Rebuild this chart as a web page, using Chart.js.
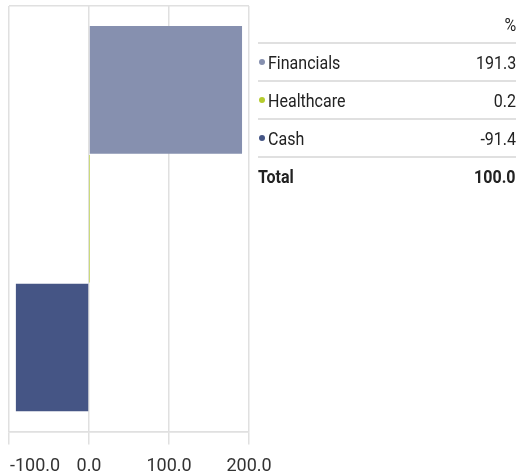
<!DOCTYPE html>
<html>
<head>
<meta charset="utf-8">
<script src="https://cdn.jsdelivr.net/npm/chart.js@4/dist/chart.umd.min.js"></script>
<style>
    body { margin: 0; background: #fff; font-family: Roboto, sans-serif; color: #222; }
    #wrap { position: absolute; left: 0; top: 0; width: 280px; height: 475px; }
    #tbl { position: absolute; left: 258px; top: 6px; width: 258px; border-collapse: collapse; font-size: 18px; }
    #tbl td { height: 36px; padding: 0; border-bottom: 2px solid #e0e0e0; vertical-align: middle; white-space: nowrap; }
    #tbl tr:last-child td { border-bottom: none; font-weight: bold; }
    #tbl td.v { text-align: right; }
    .t { display: inline-block; transform: scaleX(0.89); transform-origin: left center; }
    td.v .t { transform-origin: right center; }
    .dot { display: inline-block; width: 6px; height: 6px; border-radius: 50%; margin: 0 3px 3px 1px; vertical-align: middle; }
</style>
</head>
<body>
<div id="wrap"><canvas id="allocChart"></canvas></div>
<table id="tbl"></table>
<script>
const sectors = ["Financials", "Healthcare", "Cash"];
const weights = [191.3, 0.2, -91.4];
const sectorColors = ["#8690AF", "#B5CC2E", "#455585"];
const totalWeight = "100.0";
const xTicks = [-100, 0, 100, 200];

// table on the right
const tbl = document.getElementById("tbl");
const cell = (txt, cls) => '<td' + (cls ? ' class="' + cls + '"' : '') + '><span class="t">' + txt + '</span></td>';
let html = '<tr><td></td>' + cell("%", "v") + '</tr>';
sectors.forEach((s, i) => {
    html += '<tr><td><span class="dot" style="background:' + sectorColors[i] + '"></span><span class="t">' + s +
        '</span></td>' + cell(weights[i].toFixed(1), "v") + '</tr>';
});
html += '<tr>' + cell("Total") + cell(totalWeight, "v") + '</tr>';
tbl.innerHTML = html;

const ctx = document.getElementById("allocChart").getContext("2d");

// push the first tick label inside the canvas, like the original
const edgeLabel = {
    id: "edgeLabel",
    beforeDraw(chart) {
        const items = chart.scales.x.getLabelItems(chart.chartArea);
        if (items.length) {
            items[0].options.textAlign = "left";
            items[0].options.translation[0] += 1;
        }
    }
};

new Chart(ctx, {
    type: "bar",
    data: {
        datasets: [
            {
                data: weights.map((v, i) => ({ x: v, y: i })),
                backgroundColor: sectorColors,
                barPercentage: 0.99,
                categoryPercentage: 1,
            },
        ],
    },
    options: {
        indexAxis: "y",
        responsive: true,
        maintainAspectRatio: false,
        animation: false,
        layout: { padding: { left: 9, top: 6, right: 31, bottom: -13 } },
        scales: {
            x: {
                type: "linear",
                min: -100,
                max: 200,
                afterBuildTicks: (scale) => { scale.ticks = xTicks.map((v) => ({ value: v })); },
                afterFit: (scale) => { scale.paddingLeft = 0; scale.paddingRight = 0; },
                grid: { color: "#e0e0e0", lineWidth: 1.5, tickLength: 13 },
                border: { color: "#e0e0e0", width: 1.5 },
                ticks: {
                    color: "#333",
                    padding: 11,
                    maxRotation: 0,
                    font: { family: "Roboto, sans-serif", size: 18 },
                    callback: (v) => v.toFixed(1),
                },
            },
            y: {
                type: "linear",
                reverse: true,
                offset: false,
                min: -0.651,
                max: 2.651,
                afterBuildTicks: (scale) => { scale.ticks = [{ value: -0.651 }, { value: 2.651 }]; },
                grid: { color: "#e0e0e0", lineWidth: 1.5, drawTicks: false, offset: false },
                border: { display: false },
                ticks: { display: false },
            },
        },
        plugins: {
            legend: { display: false },
            tooltip: { enabled: false },
        },
    },
    plugins: [edgeLabel],
});
</script>
</body>
</html>
